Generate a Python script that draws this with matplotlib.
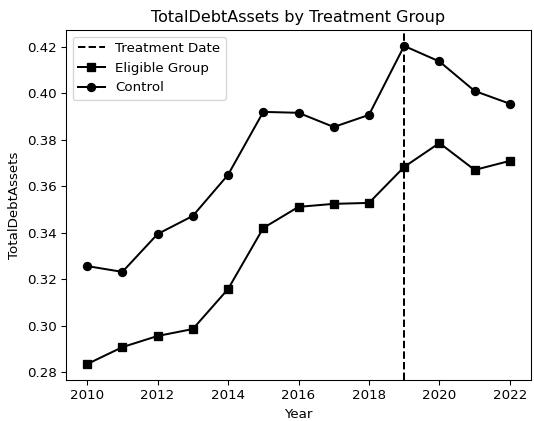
import matplotlib
matplotlib.use("Agg")
import matplotlib.pyplot as plt

years = [2010, 2011, 2012, 2013, 2014, 2015, 2016, 2017, 2018, 2019, 2020, 2021, 2022]
eligible = [0.2834, 0.2907, 0.2955, 0.2985, 0.3157, 0.3420, 0.3511, 0.3524, 0.3528, 0.3683, 0.3786, 0.3670, 0.3709]
control = [0.3256, 0.3231, 0.3394, 0.3472, 0.3649, 0.3920, 0.3916, 0.3855, 0.3907, 0.4204, 0.4137, 0.4010, 0.3955]
treatment_year = 2019

dpi = 96
fig, ax = plt.subplots(figsize=(534 / dpi, 421 / dpi), dpi=dpi)
fig.subplots_adjust(left=0.1236, right=0.9944, top=0.9287, bottom=0.0974)

ax.axvline(treatment_year, color="black", linestyle="--", label="Treatment Date")
ax.plot(years, eligible, color="black", marker="s", label="Eligible Group")
ax.plot(years, control, color="black", marker="o", label="Control")

ax.set_title("TotalDebtAssets by Treatment Group")
ax.set_xlabel("Year")
ax.set_ylabel("TotalDebtAssets")
ax.set_xticks(range(2010, 2023, 2))
ax.legend(loc="upper left")

fig.savefig("out.png", dpi=dpi)
